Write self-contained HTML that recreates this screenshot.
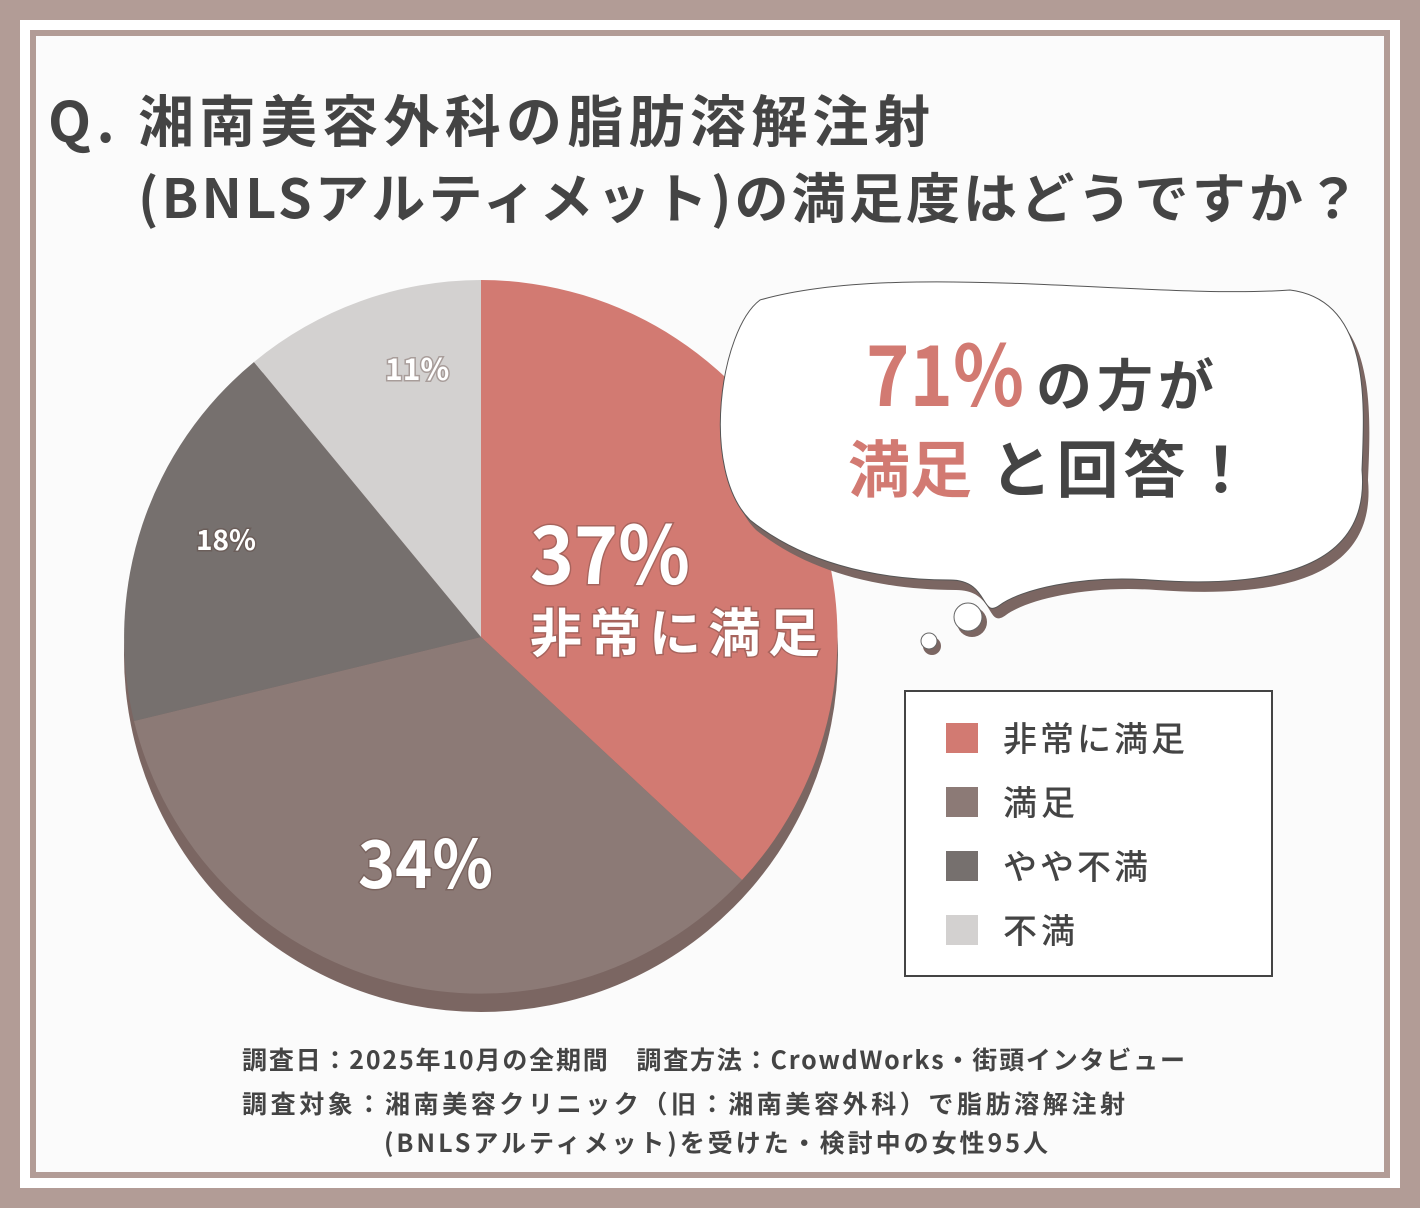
<!DOCTYPE html>
<html><head><meta charset="utf-8"><style>
body{margin:0;width:1420px;height:1208px;overflow:hidden;background:#b29c96;font-family:"Liberation Sans","Noto Sans CJK JP",sans-serif}
</style></head><body>
<svg width="1420" height="1208" xmlns="http://www.w3.org/2000/svg" style="position:absolute;left:0;top:0">
<rect x="20" y="20" width="1380" height="1168" fill="#fff"/>
<rect x="33" y="33" width="1354" height="1142" fill="#fbfbfb" stroke="#b29c96" stroke-width="6"/>
<g font-family="Noto Sans CJK JP, sans-serif" font-weight="700" fill="#444">
<text x="48" y="142" font-size="56" textLength="882" lengthAdjust="spacing">Q. 湘南美容外科の脂肪溶解注射</text>
<text x="138" y="218" font-size="54" textLength="1222" lengthAdjust="spacing">(BNLSアルティメット)の満足度はどうですか？</text>
</g>
<g transform="translate(0,18)">
<circle cx="481" cy="637" r="357" fill="#7b6662"/>
</g>
<path d="M481,637 L481,280 A357,357 0 0 1 742,880 Z" fill="#d27a72"/>
<path d="M481,637 L742,880 A357,357 0 0 1 134,721 Z" fill="#8c7a76"/>
<path d="M481,637 L134,721 A357,357 0 0 1 254,362 Z" fill="#76706e"/>
<path d="M481,637 L254,362 A357,357 0 0 1 481,280 Z" fill="#d3d1d0"/>
<g font-family="Noto Sans CJK JP, sans-serif" font-weight="700" fill="#fff" style="paint-order:stroke" stroke="rgba(90,60,55,0.35)" stroke-width="3">
<text x="530" y="584" font-size="80" textLength="160" lengthAdjust="spacingAndGlyphs">37%</text>
<text x="530" y="652" font-size="52" textLength="290" lengthAdjust="spacing">非常に満足</text>
<text x="358" y="888" font-size="66" textLength="135" lengthAdjust="spacingAndGlyphs">34%</text>
<text x="196" y="550" font-size="28">18%</text>
<text x="385" y="380" font-size="30">11%</text>
</g>
<path d="M760,300 C900,260 1150,300 1290,290 C1370,300 1365,400 1362,470 C1370,560 1290,590 1150,580 C1080,575 1020,590 1000,605 C980,620 990,580 950,580 C870,580 800,560 750,520 C700,470 720,330 760,300 Z" fill="#7b6662" transform="translate(6,10)"/>
<path d="M760,300 C900,260 1150,300 1290,290 C1370,300 1365,400 1362,470 C1370,560 1290,590 1150,580 C1080,575 1020,590 1000,605 C980,620 990,580 950,580 C870,580 800,560 750,520 C700,470 720,330 760,300 Z" fill="#fff" stroke="#555" stroke-width="1"/>
<circle cx="972" cy="622" r="15" fill="#7b6662"/><circle cx="968" cy="617" r="14" fill="#fff" stroke="#666"/>
<circle cx="932" cy="646" r="9" fill="#7b6662"/><circle cx="929" cy="641" r="8" fill="#fff" stroke="#666"/>
<g font-family="Noto Sans CJK JP, sans-serif" font-weight="700">
<text x="866" y="406" font-size="84" fill="#d27a72" textLength="158" lengthAdjust="spacingAndGlyphs">71%</text>
<text x="1036" y="406" font-size="56" fill="#444" textLength="178" lengthAdjust="spacing">の方が</text>
<text x="848" y="492" font-size="62" fill="#d27a72">満足</text>
<text x="990" y="492" font-size="62" fill="#444" textLength="262" lengthAdjust="spacing">と回答！</text>
</g>
<rect x="905" y="691" width="367" height="285" fill="#fff" stroke="#444" stroke-width="2"/>
<g font-family="Noto Sans CJK JP, sans-serif" font-size="34" fill="#444" font-weight="500">
<rect x="946" y="723" width="32" height="30" fill="#d27a72"/><text x="1003" y="751" textLength="182" lengthAdjust="spacing">非常に満足</text>
<rect x="946" y="787" width="32" height="30" fill="#8c7a76"/><text x="1003" y="815" textLength="72" lengthAdjust="spacing">満足</text>
<rect x="946" y="851" width="32" height="30" fill="#76706e"/><text x="1003" y="879" textLength="145" lengthAdjust="spacing">やや不満</text>
<rect x="946" y="915" width="32" height="30" fill="#d3d1d0"/><text x="1003" y="943" textLength="72" lengthAdjust="spacing">不満</text>
</g>
<g font-family="Noto Sans CJK JP, sans-serif" font-size="25" fill="#444" font-weight="700">
<text x="242" y="1069" textLength="943" lengthAdjust="spacing">調査日：2025年10月の全期間　調査方法：CrowdWorks・街頭インタビュー</text>
<text x="242" y="1113" textLength="883" lengthAdjust="spacing">調査対象：湘南美容クリニック（旧：湘南美容外科）で脂肪溶解注射</text>
<text x="384" y="1152" textLength="664" lengthAdjust="spacing">(BNLSアルティメット)を受けた・検討中の女性95人</text>
</g>
</svg>
</body></html>
